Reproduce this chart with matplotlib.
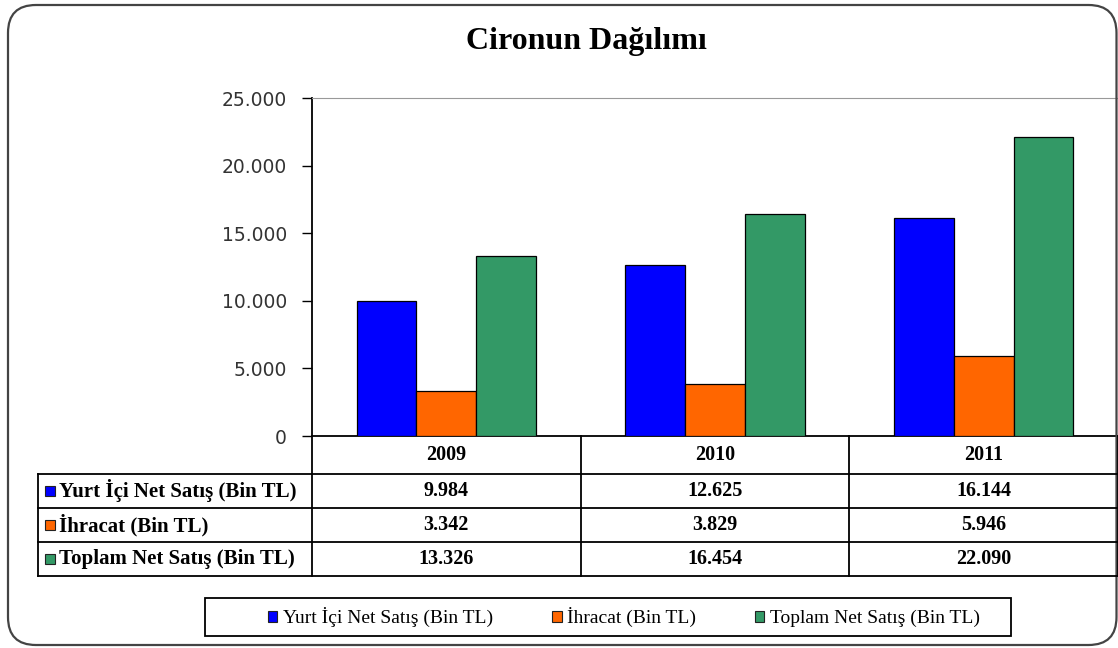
import matplotlib
matplotlib.use("Agg")
import matplotlib.pyplot as plt
import matplotlib.patches as mpatches
import matplotlib.transforms as mtransforms
from matplotlib.lines import Line2D
import numpy as np

# ---------------------------------------------------------------------------
# Data
# ---------------------------------------------------------------------------
years = ["2009", "2010", "2011"]
series_names = ["Yurt İçi Net Satış (Bin TL)", "İhracat (Bin TL)", "Toplam Net Satış (Bin TL)"]
legend_names = ["Yurt İçi Net Satış (Bin TL)", "İhracat (Bin TL)", "Toplam Net Satış (Bin TL)"]
yurt_ici = [9984, 12625, 16144]
ihracat = [3342, 3829, 5946]
toplam = [13326, 16454, 22090]
colors = ["#0000FF", "#FF6600", "#339966"]
yticks = [0, 5000, 10000, 15000, 20000, 25000]

W, H = 1118, 648
SERIF = "Liberation Serif"


def fx(px):
    return px / W


def fy(py):
    return 1 - py / H


def tr(v):
    # Turkish number format: dot as thousands separator
    return f"{v:,}".replace(",", ".")


fig = plt.figure(figsize=(W / 100, H / 100), dpi=100)
fig.patch.set_facecolor("white")

# rounded outer frame
frame = mpatches.FancyBboxPatch((fx(8), fy(645)), fx(1116.5) - fx(8), fy(5) - fy(645),
                                boxstyle="round,pad=0,rounding_size=0.025",
                                transform=fig.transFigure, fill=False,
                                edgecolor="#444444", linewidth=1.6,
                                mutation_aspect=W / H)
fig.patches.append(frame)

fig.text(fx(586), fy(42), "Cironun Dağılımı", family=SERIF, fontsize=23,
         fontweight="bold", ha="center", va="center")

# plot area
ax = fig.add_axes([fx(312), fy(436), fx(1118) - fx(312), fy(98) - fy(436)])
all_series = [yurt_ici, ihracat, toplam]
x = np.arange(len(years))
w = 1 / 4.5
for i, vals in enumerate(all_series):
    ax.bar(x + (i - 1) * w, vals, w, color=colors[i], edgecolor="black",
           linewidth=0.9, zorder=3)

ax.set_xlim(-0.5, len(years) - 0.5)
ax.set_ylim(0, 25000)
ax.set_yticks(yticks)
ax.set_yticklabels([tr(v) for v in yticks], family="DejaVu Sans", fontsize=13.5,
                   color="#333333")
ax.tick_params(axis="y", direction="out", length=7, width=1, pad=11)
ax.set_xticks([])
ax.spines["top"].set_color("#999999")
ax.spines["right"].set_visible(False)
ax.spines["left"].set_linewidth(1.3)
ax.spines["bottom"].set_linewidth(1.3)

# ---------------------------------------------------------------------------
# Data table under the plot
# ---------------------------------------------------------------------------
blend = mtransforms.blended_transform_factory(ax.transData, fig.transFigure)
row_y = [436, 474, 508, 542, 576]  # pixel rows (header + 3 data rows)
lw = 1.3
tsize = 14.5

# vertical column boundaries
for b in np.arange(len(years) + 1) - 0.5:
    fig.add_artist(Line2D([b, b], [fy(436), fy(576)], transform=blend,
                          color="black", linewidth=lw, clip_on=False))
# row header left border
fig.add_artist(Line2D([fx(38), fx(38)], [fy(474), fy(576)], transform=fig.transFigure,
                      color="black", linewidth=lw))
# horizontal lines
for ry in row_y[1:]:
    fig.add_artist(Line2D([fx(38), fx(1118)], [fy(ry), fy(ry)], transform=fig.transFigure,
                          color="black", linewidth=lw))

# header years
for i, yr in enumerate(years):
    fig.text(x[i], fy((row_y[0] + row_y[1]) / 2), yr, transform=blend, family=SERIF,
             fontsize=tsize, fontweight="bold", ha="center", va="center")

# data rows
for r, (name, vals) in enumerate(zip(series_names, all_series)):
    cy = fy((row_y[r + 1] + row_y[r + 2]) / 2)
    fig.patches.append(mpatches.Rectangle((fx(45), cy - 5 / H), 10 / W, 10 / H,
                                          transform=fig.transFigure,
                                          facecolor=colors[r], edgecolor="#222222",
                                          linewidth=0.8))
    fig.text(fx(59), cy, name, family=SERIF, fontsize=15, fontweight="bold",
             ha="left", va="center")
    for i, v in enumerate(vals):
        fig.text(x[i], cy, tr(v), transform=blend, family=SERIF, fontsize=tsize,
                 fontweight="bold", ha="center", va="center")

# legend: frame drawn as its own box, entries centred inside
fig.patches.append(mpatches.Rectangle((fx(205), fy(636)), fx(1011) - fx(205), fy(598) - fy(636),
                                      transform=fig.transFigure, fill=False,
                                      edgecolor="black", linewidth=1.3))
handles = [mpatches.Patch(facecolor=c, edgecolor="#222222", linewidth=0.8) for c in colors]
leg = fig.legend(handles, legend_names, loc="center", ncol=3,
                 bbox_to_anchor=(fx(624), fy(617)), bbox_transform=fig.transFigure,
                 prop={"family": SERIF, "size": 14}, frameon=False,
                 handlelength=0.5, handleheight=0.5, handletextpad=0.3,
                 columnspacing=3.0)

fig.savefig("out.png", dpi=100, facecolor="white")
